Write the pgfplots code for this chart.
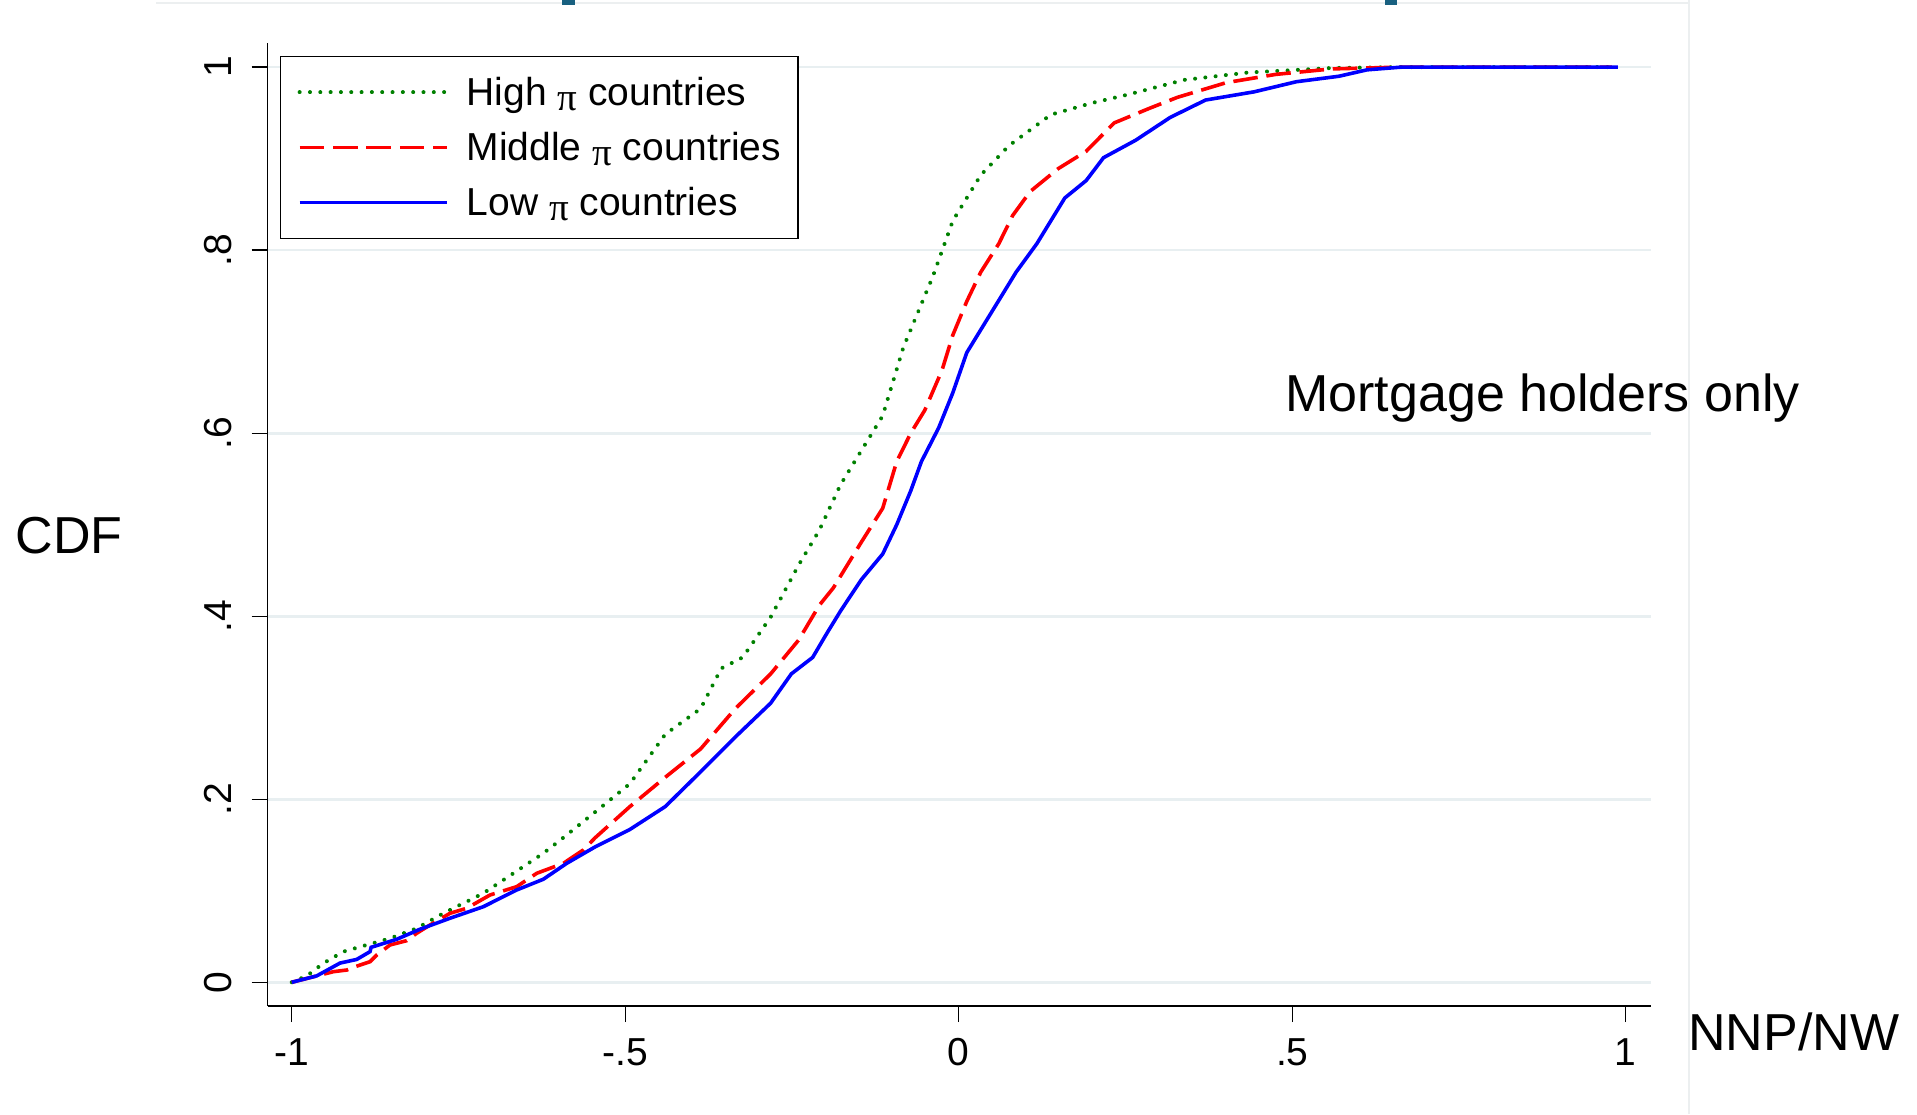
\documentclass[border=0pt]{standalone}
\usepackage{fontspec}
\setmainfont{Liberation Sans}
\newfontfamily\symfont{Liberation Serif}
\usepackage{pgfplots}
\pgfplotsset{compat=1.18}
\definecolor{gridc}{RGB}{232,239,241}
\definecolor{sgreen}{RGB}{0,128,0}
\definecolor{tealmark}{RGB}{24,96,128}
\definecolor{slidegray}{RGB}{236,239,240}
\newcommand{\pisym}{\raisebox{-0.12em}{\symfont π}}

\pgfplotstableread{
x y
-1.000 0.000
-0.9775 0.0069
-0.9526 0.0208
-0.9226 0.0335
-0.8876 0.0408
-0.8526 0.048
-0.8126 0.059
-0.7727 0.0754
-0.7127 0.0973
-0.6827 0.1118
-0.6527 0.1264
-0.6228 0.141
-0.598 0.155
-0.535 0.192
-0.493 0.217
-0.440 0.271
-0.387 0.299
-0.356 0.343
-0.324 0.355
-0.282 0.399
-0.240 0.456
-0.209 0.494
-0.177 0.544
-0.146 0.581
-0.114 0.619
-0.083 0.694
-0.040 0.769
-0.009 0.832
0.033 0.882
0.075 0.914
0.138 0.948
0.201 0.961
0.254 0.970
0.338 0.986
0.433 0.994
0.559 0.999
0.664 1.000
0.980 1.000
}\high

\pgfplotstableread{
x y
-1.000 0.000
-0.9376 0.0116
-0.9175 0.0134
-0.9076 0.0164
-0.8826 0.0225
-0.8726 0.0298
-0.8526 0.0408
-0.8276 0.0455
-0.8126 0.0536
-0.7927 0.0626
-0.7627 0.0754
-0.7376 0.0809
-0.7027 0.0954
-0.6627 0.1045
-0.6327 0.1191
-0.5927 0.130
-0.5628 0.1446
-0.545 0.158
-0.493 0.192
-0.440 0.224
-0.387 0.255
-0.335 0.299
-0.282 0.337
-0.240 0.374
-0.209 0.412
-0.188 0.431
-0.167 0.456
-0.146 0.481
-0.114 0.518
-0.093 0.569
-0.072 0.600
-0.051 0.625
-0.025 0.669
-0.009 0.707
0.012 0.744
0.033 0.776
0.060 0.807
0.081 0.838
0.107 0.864
0.149 0.889
0.191 0.908
0.233 0.939
0.286 0.955
0.328 0.967
0.401 0.983
0.475 0.992
0.559 0.998
0.664 1.000
0.979 1.000
}\middle

\pgfplotstableread{
x y
-1.000 0.000
-0.9625 0.007
-0.9276 0.021
-0.9025 0.025
-0.8826 0.0335
-0.8810 0.0382
-0.8426 0.047
-0.8076 0.058
-0.7627 0.070
-0.7127 0.0826
-0.6627 0.1009
-0.6228 0.1126
-0.5877 0.130
-0.545 0.148
-0.493 0.167
-0.440 0.192
-0.387 0.230
-0.335 0.268
-0.282 0.305
-0.251 0.337
-0.219 0.355
-0.198 0.381
-0.177 0.406
-0.146 0.440
-0.114 0.468
-0.093 0.500
-0.072 0.537
-0.056 0.569
-0.030 0.606
-0.009 0.644
0.012 0.688
0.033 0.713
0.065 0.751
0.086 0.776
0.117 0.807
0.138 0.832
0.159 0.857
0.191 0.876
0.217 0.901
0.265 0.920
0.317 0.945
0.370 0.964
0.443 0.973
0.506 0.984
0.570 0.990
0.612 0.997
0.664 1.000
0.988 1.000
}\low

\begin{document}
\begin{tikzpicture}[x=1pt,y=1pt]
% faint slide remnants
\draw[slidegray, line width=0.8pt] (-55.85,501.35) -- (711.15,501.35);
\draw[slidegray, line width=0.8pt] (710.65,503) -- (710.65,-54);
\fill[tealmark] (147.15,503) rectangle (153.65,500.6);
\fill[tealmark] (558.65,503) rectangle (564.65,500.6);
\begin{axis}[
  at={(0,0)}, anchor=south west,
  scale only axis, width=691.4pt, height=481.35pt,
  xmin=-1.036, xmax=1.037, ymin=-0.0259, ymax=1.026,
  axis x line*=bottom, axis y line*=left,
  axis line style={-, line width=0.65pt, black},
  xtick={-1,-0.5,0,0.5,1}, xticklabels={-1,-.5,0,.5,1},
  ytick={0,0.2,0.4,0.6,0.8,1}, yticklabels={0,.2,.4,.6,.8,1},
  tick align=outside, major tick length=8pt,
  tick style={black, line width=0.65pt},
  ymajorgrids, major grid style={gridc, line width=1.35pt},
  ticklabel style={font=\fontsize{19.5}{23}\selectfont, inner sep=0pt},
  xticklabel style={anchor=base, yshift=-21.5pt},
  yticklabel style={xshift=-10.25pt, rotate=90, anchor=base},
  xlabel={NNP/NW}, ylabel={CDF},
  every axis x label/.style={at={(axis description cs:1.0271,-0.0464)}, anchor=base west, inner sep=0pt, font=\fontsize{26}{30}\selectfont},
  every axis y label/.style={at={(axis description cs:-0.1437,0.4702)}, anchor=base, inner sep=0pt, font=\fontsize{26}{30}\selectfont},
  legend cell align=left,
  legend style={at={(axis description cs:0.0089,0.9868)}, anchor=north west,
    draw=black, line width=0.65pt, fill=white,
    inner xsep=8.5pt, inner ysep=11.4pt, row sep=14.55pt, column sep=9pt,
    font=\fontsize{19.5}{23}\selectfont,
    nodes={inner sep=0pt, text height=13pt, text depth=0pt}},
  legend image code/.code={\draw[#1] (0pt,0pt) -- (73.5pt,0pt);},
]
\addplot[sgreen, line width=2pt, line cap=round, dash pattern=on 0.01pt off 5.15pt, mark=none] table[x=x,y=y] {\high};
\addlegendentry{High \pisym{} countries}
\addplot[red, line width=1.8pt, dash pattern=on 12.3pt off 4.4pt, mark=none] table[x=x,y=y] {\middle};
\addlegendentry{Middle \pisym{} countries}
\addplot[blue, line width=1.8pt, mark=none] table[x=x,y=y] {\low};
\addlegendentry{Low \pisym{} countries}
\end{axis}
\node[anchor=base west, inner sep=0pt, font=\fontsize{26}{30}\selectfont] at (508.65,297.15) {Mortgage holders only};
\pgfresetboundingbox
\path[use as bounding box] (-133.85,-54) rectangle (824.65,503);
\end{tikzpicture}
\end{document}
